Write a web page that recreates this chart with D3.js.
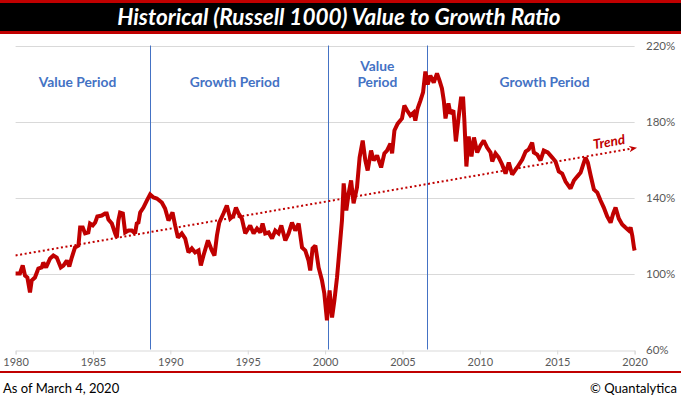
<!DOCTYPE html>
<html>
<head>
<meta charset="utf-8">
<script src="https://cdn.jsdelivr.net/npm/d3@7"></script>
<style>
  html, body { margin: 0; padding: 0; background: #fff; }
  svg { display: block; }
</style>
</head>
<body>
<svg id="chart" width="681" height="399"></svg>
<script>
// ---------- DATA ----------
const title = "Historical (Russell 1000) Value to Growth Ratio";
const footLeft = "As of March 4, 2020";
const footRight = "© Quantalytica";

const xTicks = [1980, 1985, 1990, 1995, 2000, 2005, 2010, 2015, 2020];
const yTicks = [60, 100, 140, 180, 220];

const years = [
  1980.00,1980.28,1980.46,1980.61,1980.76,1980.93,1981.04,1981.25,1981.47,1981.69,1981.79,1981.97,
  1982.23,1982.44,1982.66,1982.92,1983.09,1983.31,1983.47,1983.63,1983.84,1984.06,1984.17,1984.34,
  1984.49,1984.70,1984.81,1984.99,1985.14,1985.28,1985.57,1985.78,1985.89,1986.00,1986.22,1986.43,
  1986.54,1986.64,1986.75,1986.93,1987.08,1987.29,1987.51,1987.72,1987.83,1987.94,1988.05,1988.26,
  1988.48,1988.69,1988.91,1989.13,1989.45,1989.66,1989.88,1990.14,1990.31,1990.49,1990.74,1990.96,
  1991.17,1991.39,1991.60,1991.82,1991.97,1992.14,1992.43,1992.68,1992.85,1993.01,1993.16,1993.43,
  1993.65,1993.87,1994.08,1994.24,1994.41,1994.62,1994.84,1995.16,1995.38,1995.60,1995.81,1995.96,
  1996.13,1996.35,1996.57,1996.78,1996.99,1997.17,1997.43,1997.64,1997.86,1998.07,1998.29,1998.51,
  1998.72,1998.93,1999.04,1999.19,1999.37,1999.58,1999.80,1999.95,2000.12,2000.29,2000.45,2000.60,
  2000.77,2000.94,2001.09,2001.20,2001.37,2001.52,2001.68,2001.84,2002.06,2002.23,2002.43,2002.60,
  2002.75,2002.97,2003.14,2003.36,2003.62,2003.83,2004.00,2004.22,2004.33,2004.48,2004.69,2004.97,
  2005.12,2005.30,2005.51,2005.72,2005.83,2005.98,2006.16,2006.33,2006.48,2006.63,2006.80,2007.02,
  2007.23,2007.39,2007.55,2007.67,2007.78,2007.97,2008.10,2008.29,2008.45,2008.62,2008.78,2008.92,
  2009.00,2009.13,2009.28,2009.46,2009.62,2009.83,2010.04,2010.25,2010.47,2010.69,2010.80,2011.01,
  2011.22,2011.44,2011.66,2011.87,2012.09,2012.41,2012.74,2012.96,2013.16,2013.38,2013.49,2013.71,
  2013.92,2014.13,2014.39,2014.68,2014.89,2015.10,2015.32,2015.54,2015.86,2016.08,2016.29,2016.51,
  2016.72,2016.83,2016.98,2017.16,2017.37,2017.59,2017.80,2018.01,2018.23,2018.45,2018.62,2018.77,
  2018.98,2019.20,2019.41,2019.63,2019.74,2019.85,2019.96,2020.00
];
const ratio = [
  100.0,100.0,104.2,98.9,97.9,90.0,96.3,97.9,102.6,103.2,105.8,103.2,
  107.9,109.5,108.4,103.2,104.2,106.8,103.7,108.4,113.7,114.7,124.2,124.2,
  121.1,121.6,126.3,125.3,126.8,130.0,130.5,131.6,131.6,128.4,126.3,121.1,
  118.9,127.9,132.1,131.6,121.6,122.6,122.6,121.1,126.3,126.8,132.1,134.7,
  138.4,141.6,140.0,139.5,137.4,134.2,127.9,132.1,125.3,118.9,121.1,118.4,
  111.1,113.2,111.1,112.1,104.2,109.5,117.4,112.1,109.5,120.0,126.8,131.6,
  135.8,128.9,130.5,134.7,131.6,128.9,121.1,125.3,121.1,123.7,121.6,126.3,
  121.1,121.6,118.4,122.6,121.1,125.3,117.4,121.1,126.8,122.6,126.3,113.7,
  112.1,106.8,101.6,113.2,114.7,103.2,96.3,89.5,75.3,91.1,76.8,85.8,
  97.9,113.7,127.9,147.4,133.2,142.1,149.0,136.9,145.3,161.0,170.0,159.5,
  154.2,164.7,159.5,162.1,155.8,163.2,164.7,168.4,163.2,175.3,178.9,181.6,
  188.4,185.8,183.2,184.7,180.5,186.8,191.0,195.3,206.3,199.5,204.2,200.5,
  205.3,201.6,197.4,191.0,181.6,189.5,184.2,185.8,169.5,181.6,192.1,192.1,
  180.5,156.3,172.1,161.6,171.6,163.7,167.4,170.0,166.3,163.7,159.0,163.2,
  161.0,157.4,152.6,158.4,152.1,155.8,160.0,164.2,165.3,168.9,163.7,162.6,
  159.5,164.7,163.7,161.0,158.9,153.7,152.6,148.4,144.7,148.9,151.0,153.1,
  158.4,161.0,158.4,151.6,144.2,142.6,138.4,134.7,130.0,126.8,131.6,134.7,
  128.9,125.8,124.2,122.6,124.2,120.0,113.7,112.1
];

// regime boundaries (years) and period labels
const boundaries = [1988.69, 2000.17, 2006.58];
const periodNames = [["Value Period"], ["Growth Period"], ["Value", "Period"], ["Growth Period"]];
const periodCenters = [1984.0, 1994.16, 2003.38, 2014.18];

// trend line endpoints
const trendYears = [1980.0, 2019.7];
const trendValues = [109.5, 165.6];
const trendLabel = "Trend";

// ---------- DRAW ----------
const W = 681, H = 399;
const svg = d3.select("#chart");
const fontMain = "Lato, 'Open Sans', sans-serif";

const x = d3.scaleLinear().domain([1980, 2020]).range([15.6, 634.6]);
const y = d3.scaleLinear().domain([60, 220]).range([349.5, 45.5]);

// title bar
svg.append("rect").attr("x", 0).attr("y", 0).attr("width", W).attr("height", 34).attr("fill", "#c00000");
svg.append("rect").attr("x", 0).attr("y", 3).attr("width", W).attr("height", 28).attr("fill", "#000");
svg.append("text")
  .attr("x", 339).attr("y", 25)
  .attr("text-anchor", "middle")
  .attr("fill", "#fff")
  .style("font-family", fontMain)
  .style("font-weight", "bold")
  .style("font-style", "italic")
  .style("font-size", "22.5px")
  .text(title);

// gridlines
svg.append("g").selectAll("line")
  .data(yTicks.filter(d => d !== 60))
  .join("line")
  .attr("x1", x(1980)).attr("x2", x(2020))
  .attr("y1", d => Math.round(y(d)) + 0.5).attr("y2", d => Math.round(y(d)) + 0.5)
  .attr("stroke", "#d9d9d9").attr("stroke-width", 1);

// y labels (right)
svg.append("g").selectAll("text")
  .data(yTicks)
  .join("text")
  .attr("x", 646)
  .attr("y", d => y(d) + 4)
  .attr("fill", "#595959")
  .style("font-family", fontMain)
  .style("font-size", "11.5px")
  .text(d => d + "%");

// x axis
const xAxis = d3.axisBottom(x).tickValues(xTicks).tickFormat(d3.format("d")).tickSize(4).tickPadding(4);
const gx = svg.append("g").attr("transform", `translate(0,${Math.round(y(60)) + 0.5})`).call(xAxis);
gx.select(".domain").attr("stroke", "#d9d9d9");
gx.selectAll(".tick line").attr("stroke", "#d9d9d9");
gx.selectAll(".tick text")
  .attr("fill", "#595959")
  .style("font-family", fontMain)
  .style("font-size", "11px");

// regime boundaries
svg.append("g").selectAll("line")
  .data(boundaries)
  .join("line")
  .attr("x1", d => Math.round(x(d)) + 0.5).attr("x2", d => Math.round(x(d)) + 0.5)
  .attr("y1", y(220)).attr("y2", y(60))
  .attr("stroke", "#4472c4").attr("stroke-width", 1);

// period labels
const pl = svg.append("g").selectAll("text")
  .data(periodNames.map((lines, i) => ({ lines, c: periodCenters[i] })))
  .join("text")
  .attr("text-anchor", "middle")
  .attr("fill", "#4472c4")
  .style("font-family", fontMain)
  .style("font-weight", "bold")
  .style("font-size", "13.8px");
pl.each(function(d) {
  const t = d3.select(this);
  const baseY = d.lines.length === 1 ? 87 : 71;
  d.lines.forEach((ln, j) => {
    t.append("tspan").attr("x", x(d.c)).attr("y", baseY + j * 16).text(ln);
  });
});

// trend line
const defs = svg.append("defs");
defs.append("marker")
  .attr("id", "arrow")
  .attr("viewBox", "0 0 10 10")
  .attr("refX", 1).attr("refY", 5)
  .attr("markerWidth", 4).attr("markerHeight", 4)
  .attr("markerUnits", "strokeWidth")
  .attr("orient", "auto")
  .append("path").attr("d", "M0,1 L10,5 L0,9 L3,5 Z").attr("fill", "#c00000");

const trendData = trendYears.map((yr, i) => [yr, trendValues[i]]);
svg.append("path")
  .datum(trendData)
  .attr("d", d3.line().x(d => x(d[0])).y(d => y(d[1])))
  .attr("fill", "none")
  .attr("stroke", "#c00000")
  .attr("stroke-width", 2)
  .attr("stroke-dasharray", "2,2.6")
  .attr("marker-end", "url(#arrow)");

// trend label
const tx = x(2018.4), ty = y(166.8);
const ang = Math.atan2(y(trendValues[1]) - y(trendValues[0]), x(trendYears[1]) - x(trendYears[0])) * 180 / Math.PI;
svg.append("text")
  .attr("transform", `translate(${tx},${ty}) rotate(${ang})`)
  .attr("text-anchor", "middle")
  .attr("fill", "#c00000")
  .style("font-family", fontMain)
  .style("font-weight", "bold")
  .style("font-style", "italic")
  .style("font-size", "13.5px")
  .text(trendLabel);

// ratio line
const series = years.map((yr, i) => [yr, ratio[i]]);
svg.append("path")
  .datum(series)
  .attr("d", d3.line().x(d => x(d[0])).y(d => y(d[1])))
  .attr("fill", "none")
  .attr("stroke", "#c00000")
  .attr("stroke-width", 4)
  .attr("stroke-linejoin", "miter")
  .attr("stroke-miterlimit", 2);

// footer
svg.append("rect").attr("x", 0).attr("y", 371).attr("width", W).attr("height", 2).attr("fill", "#c00000");
svg.append("text")
  .attr("x", 3).attr("y", 393)
  .attr("fill", "#000")
  .style("font-family", fontMain)
  .style("font-size", "13px")
  .text(footLeft);
svg.append("text")
  .attr("x", 677).attr("y", 393)
  .attr("text-anchor", "end")
  .attr("fill", "#000")
  .style("font-family", fontMain)
  .style("font-size", "13px")
  .text(footRight);
</script>
</body>
</html>
